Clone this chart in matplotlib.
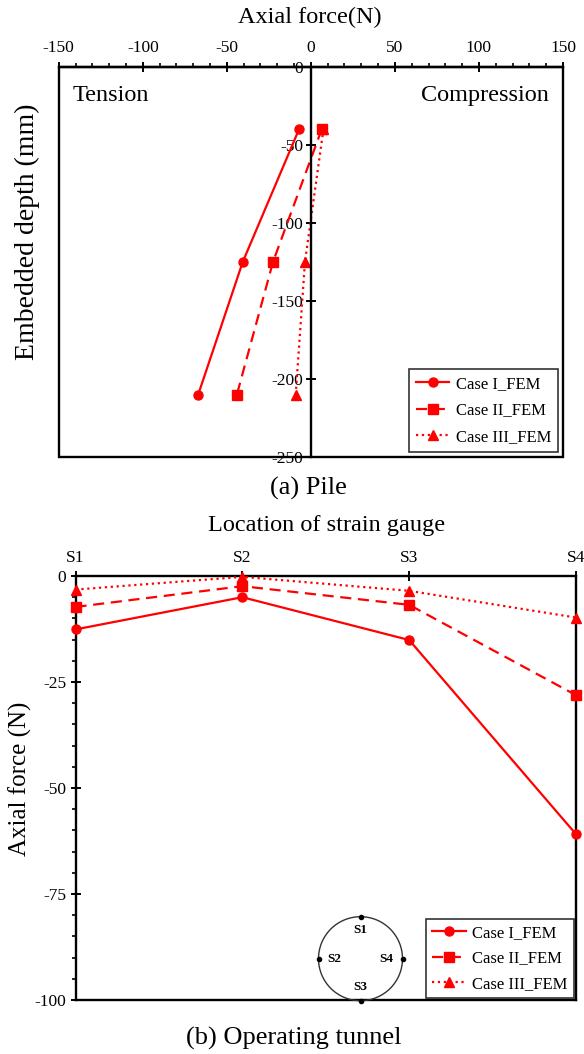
import matplotlib
matplotlib.use("Agg")
from matplotlib import pyplot as plt
from matplotlib.patches import Rectangle, Circle
from matplotlib.ticker import MultipleLocator
import numpy as np

plt.rcParams['font.family'] = ['Liberation Serif', 'DejaVu Serif']
plt.rcParams['axes.unicode_minus'] = False

# (a) Pile: axial force (N) vs embedded depth (mm)
pile_depth = [-40, -125, -210]
pile_case1 = [-7, -40.5, -67]
pile_case2 = [6.5, -22.5, -44]
pile_case3 = [7.5, -3.5, -9]

# (b) Operating tunnel: axial force (N) at strain gauges
gauges = ['S1', 'S2', 'S3', 'S4']
tunnel_case1 = [-12.6, -5.0, -15.1, -60.9]
tunnel_case2 = [-7.3, -2.4, -6.8, -28.1]
tunnel_case3 = [-3.2, -0.2, -3.5, -9.8]

case_labels = ['Case I_FEM', 'Case II_FEM', 'Case III_FEM']

W, H = 584, 1054
fig = plt.figure(figsize=(W / 100, H / 100), dpi=100)


def fx(px):
    return px / W


def fy(py):
    return 1 - py / H


red = '#ff0000'
styles = [dict(ls='-', marker='o'),
          dict(ls=(0, (5, 3)), marker='s'),
          dict(ls=':', marker='^')]

########################################################################################################################
# (a) Pile
ax1 = fig.add_axes([fx(58.7), fy(457), fx(563) - fx(58.7), fy(66.7) - fy(457)])
for xs, st, lab in zip([pile_case1, pile_case2, pile_case3], styles, case_labels):
    ax1.plot(xs, pile_depth, color=red, lw=1.6, ms=6.5, label=lab, **st)
ax1.set_xlim(-150, 150)
ax1.set_ylim(-250, 0)
ax1.spines['left'].set_position(('data', 0))
ax1.spines['bottom'].set_visible(False)
ax1.spines['right'].set_visible(False)
for sp in ax1.spines.values():
    sp.set_linewidth(1.7)
ax1.add_patch(Rectangle((0, 0), 1, 1, transform=ax1.transAxes, fill=False,
                        lw=1.7, ec='black', clip_on=False, zorder=5))
ax1.xaxis.tick_top()
ax1.xaxis.set_major_locator(MultipleLocator(50))
ax1.xaxis.set_minor_locator(MultipleLocator(10))
ax1.yaxis.set_major_locator(MultipleLocator(50))
ax1.tick_params(axis='x', which='major', direction='inout', length=7, width=1.4, labelsize=12.5, pad=4)
ax1.tick_params(axis='x', which='minor', direction='out', length=3, width=1.2)
ax1.tick_params(axis='y', which='major', direction='inout', length=7, width=1.4, labelsize=12.5, pad=2)
ax1.text(0.028, 0.925, 'Tension', transform=ax1.transAxes, fontsize=17.5, ha='left', va='center')
ax1.text(0.972, 0.925, 'Compression', transform=ax1.transAxes, fontsize=17.5, ha='right', va='center')
leg1 = ax1.legend(loc='lower right', fontsize=12, frameon=True, fancybox=False, edgecolor='black',
                  borderaxespad=0.3, handlelength=2.0, handletextpad=0.4, labelspacing=0.65)
leg1.get_frame().set_linewidth(1.2)

fig.text(fx(310), fy(17), 'Axial force(N)', fontsize=17.5, ha='center', va='center')
fig.text(fx(27), fy(232), 'Embedded depth (mm)', fontsize=20, ha='center', va='center', rotation=90)
fig.text(fx(308), fy(488), '(a) Pile', fontsize=19, ha='center', va='center')

########################################################################################################################
# (b) Operating tunnel
ax2 = fig.add_axes([fx(75.5), fy(1000), fx(576) - fx(75.5), fy(576) - fy(1000)])
xpos = np.arange(len(gauges))
for ys, st, lab in zip([tunnel_case1, tunnel_case2, tunnel_case3], styles, case_labels):
    ax2.plot(xpos, ys, color=red, lw=1.6, ms=6.5, label=lab, clip_on=False, zorder=4, **st)
ax2.set_xlim(0, 3)
ax2.set_ylim(-100, 0)
for sp in ax2.spines.values():
    sp.set_linewidth(1.7)
ax2.xaxis.tick_top()
ax2.set_xticks(xpos)
ax2.set_xticklabels(gauges)
ax2.yaxis.set_major_locator(MultipleLocator(25))
ax2.yaxis.set_minor_locator(MultipleLocator(5))
ax2.tick_params(axis='x', which='major', direction='inout', length=7, width=1.4, labelsize=12.5, pad=4)
ax2.tick_params(axis='y', which='major', direction='inout', length=7, width=1.4, labelsize=12.5, pad=3)
ax2.tick_params(axis='y', which='minor', direction='out', length=3, width=1.2)
leg2 = ax2.legend(loc='lower right', fontsize=12, frameon=True, fancybox=False, edgecolor='black',
                  borderaxespad=0.1, handlelength=2.0, handletextpad=0.4, labelspacing=0.55)
leg2.get_frame().set_linewidth(1.2)

fig.text(fx(327), fy(525), 'Location of strain gauge', fontsize=17.5, ha='center', va='center')
fig.text(fx(20), fy(779), 'Axial force (N)', fontsize=18, ha='center', va='center', rotation=90)
fig.text(fx(294), fy(1038), '(b) Operating tunnel', fontsize=19, ha='center', va='center')

# tunnel cross-section sketch
r = 42
axc = fig.add_axes([fx(360.5 - r - 4), fy(958.7 + r + 4), fx(2 * r + 8), fy(0) - fy(2 * r + 8)])
axc.set_xlim(-r - 4, r + 4)
axc.set_ylim(-r - 4, r + 4)
axc.axis('off')
axc.add_patch(Circle((0, 0), r, fill=False, ec='#333333', lw=1.0))
axc.plot([0, -r, 0, r], [r, 0, -r, 0], 'o', color='black', ms=3)
for name, (tx, ty) in zip(gauges, [(0, 0.68 * r), (-0.62 * r, 0), (0, -0.68 * r), (0.62 * r, 0)]):
    axc.text(tx, ty, name, fontsize=9.5, fontweight='bold', ha='center', va='center')

fig.savefig('out.png', dpi=100)
